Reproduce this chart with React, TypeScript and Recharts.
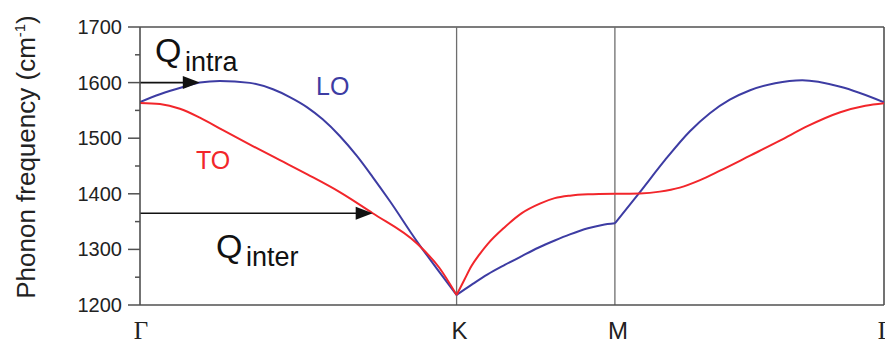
import React from "react";
import { LineChart, Line, XAxis, YAxis, ReferenceLine } from "recharts";

// path coordinate along Γ–K–M–Γ (Γ–K = 1)
const highSymmetryPoints = [
  { k: 0, name: "Γ", serif: true },
  { k: 1, name: "K", serif: false },
  { k: 1.5, name: "M", serif: false },
  { k: 2.35, name: "Γ", serif: true },
];

// [k, frequency in cm-1]
const loGammaK = [
  [0, 1565], [0.063, 1579], [0.136, 1592], [0.189, 1600], [0.252, 1603], [0.347, 1599.5],
  [0.42, 1588], [0.473, 1574], [0.527, 1556], [0.577, 1534], [0.631, 1504], [0.685, 1468],
  [0.735, 1430], [0.789, 1387], [0.874, 1315], [0.937, 1266], [1, 1218],
];
const toGammaK = [
  [0, 1563.5], [0.063, 1561.5], [0.126, 1553], [0.189, 1537], [0.262, 1514.4], [0.369, 1482],
  [0.442, 1460.5], [0.53, 1434.5], [0.631, 1403], [0.735, 1365], [0.874, 1311], [0.946, 1266.5], [1, 1218],
];
const loKM = [
  [1, 1218], [1.049, 1237], [1.098, 1255], [1.152, 1272], [1.206, 1288], [1.258, 1303],
  [1.31, 1316], [1.358, 1327], [1.415, 1338], [1.46, 1344], [1.5, 1347],
];
const toKM = [
  [1, 1218], [1.025, 1245.8], [1.047, 1270], [1.073, 1291.6], [1.098, 1309.6], [1.152, 1340],
  [1.206, 1365.3], [1.263, 1382.4], [1.31, 1392.2], [1.358, 1396.7], [1.415, 1399], [1.5, 1400],
];
const loMGamma = [
  [1.5, 1347], [1.579, 1403], [1.658, 1460.5], [1.737, 1512.6], [1.8, 1545], [1.863, 1569.2],
  [1.927, 1586.3], [2.006, 1598.8], [2.092, 1604.2], [2.212, 1592.6], [2.35, 1564.7],
];
const toMGamma = [
  [1.5, 1400], [1.579, 1400.7], [1.642, 1403.9], [1.705, 1411.1], [1.769, 1424.6], [1.832, 1441.6],
  [1.927, 1468.6], [2.021, 1495.5], [2.108, 1521.6], [2.212, 1546.7], [2.291, 1558.4], [2.35, 1562.9],
];

// scattering vectors: arrow from Γ to the tip [k, frequency]
const qIntraTip = [0.189, 1600];
const qInterTip = [0.735, 1365];

const yTicks = [1200, 1250, 1300, 1350, 1400, 1450, 1500, 1550, 1600, 1650, 1700];

const LO_COLOR = "#3d3ca3";
const TO_COLOR = "#f2262b";
const FRAME = "#505050";
const SANS = "'Liberation Sans', Arial, Helvetica, sans-serif";

const toRows = (pts: number[][]) => pts.map(([k, f]) => ({ k, f }));

const branches = [
  { id: "lo-gk", pts: loGammaK, color: LO_COLOR },
  { id: "to-gk", pts: toGammaK, color: TO_COLOR },
  { id: "lo-km", pts: loKM, color: LO_COLOR },
  { id: "to-km", pts: toKM, color: TO_COLOR },
  { id: "lo-mg", pts: loMGamma, color: LO_COLOR },
  { id: "to-mg", pts: toMGamma, color: TO_COLOR },
];

const YTick = ({ x, y, payload }: any) => {
  const major = payload.value % 100 === 0;
  return (
    <g>
      <line x1={x - (major ? 12 : 5)} x2={x} y1={y} y2={y} stroke={FRAME} strokeWidth={1.5} />
      {major && (
        <text x={x - 18} y={y + 7} textAnchor="end" fontSize={20} fontFamily={SANS} fill="#222">
          {payload.value}
        </text>
      )}
    </g>
  );
};

const XTick = ({ x, y, payload }: any) => {
  const p = highSymmetryPoints.find((h) => h.k === payload.value);
  if (!p) return null;
  return (
    <text
      x={p.serif ? x + 1 : x + 3}
      y={y + 34}
      textAnchor="middle"
      fontSize={p.serif ? 25 : 24}
      fontFamily={p.serif ? "'Liberation Serif', 'Times New Roman', serif" : SANS}
      fill="#222"
    >
      {p.name}
    </text>
  );
};

const Arrow = ({ x1, y1, x2, y2 }: any) => {
  const head = 17;
  return (
    <g>
      <line x1={x1} y1={y1} x2={x2 - head + 2} y2={y2} stroke="#111" strokeWidth={1.6} />
      <polygon points={`${x2},${y2} ${x2 - head},${y2 - 6.5} ${x2 - head},${y2 + 6.5}`} fill="#111" />
    </g>
  );
};

export default function App() {
  return (
    <div style={{ position: "absolute", left: 0, top: 0, width: 885, height: 345, background: "#fff" }}>
      <LineChart width={885} height={345} margin={{ top: 27, right: 1, bottom: 0, left: 0 }}>
        <XAxis
          dataKey="k"
          type="number"
          domain={[0, 2.35]}
          ticks={highSymmetryPoints.map((p) => p.k)}
          interval={0}
          tick={<XTick />}
          tickLine={false}
          tickSize={0}
          tickMargin={0}
          height={40}
          axisLine={{ stroke: FRAME, strokeWidth: 1.6 }}
          allowDataOverflow
        />
        <YAxis
          dataKey="f"
          type="number"
          domain={[1200, 1700]}
          ticks={yTicks}
          interval={0}
          tick={<YTick />}
          tickLine={false}
          tickSize={0}
          tickMargin={0}
          width={140}
          axisLine={{ stroke: FRAME, strokeWidth: 1.6 }}
          allowDataOverflow
        />
        <ReferenceLine y={1700} stroke={FRAME} strokeWidth={1.6} />
        <ReferenceLine x={2.35} stroke={FRAME} strokeWidth={1.6} />
        <ReferenceLine x={1} stroke="#6e6e6e" strokeWidth={1.3} />
        <ReferenceLine x={1.5} stroke="#6e6e6e" strokeWidth={1.3} />
        {branches.map((b) => (
          <Line
            key={b.id}
            data={toRows(b.pts)}
            dataKey="f"
            type="monotone"
            stroke={b.color}
            strokeWidth={2}
            dot={false}
            activeDot={false}
            isAnimationActive={false}
          />
        ))}
        <ReferenceLine
          segment={[{ x: 0, y: qIntraTip[1] }, { x: qIntraTip[0], y: qIntraTip[1] }]}
          shape={(p: any) => <Arrow {...p} />}
        />
        <ReferenceLine
          segment={[{ x: 0, y: qInterTip[1] }, { x: qInterTip[0], y: qInterTip[1] }]}
          shape={(p: any) => <Arrow {...p} />}
        />
      </LineChart>
      <svg width={885} height={345} style={{ position: "absolute", left: 0, top: 0, pointerEvents: "none" }}>
        <text transform="translate(35 157) rotate(-90)" textAnchor="middle" fontSize={26} fontFamily={SANS} fill="#222">
          Phonon frequency (cm<tspan dy={-10} fontSize={15}>-1</tspan>
          <tspan dy={10}>)</tspan>
        </text>
        <text x={155} y={62} fontSize={34} fontFamily={SANS} fill="#111">
          Q<tspan x={185} y={71} fontSize={27}>intra</tspan>
        </text>
        <text x={216} y={258} fontSize={34} fontFamily={SANS} fill="#111">
          Q<tspan x={246} y={266} fontSize={27}>inter</tspan>
        </text>
        <text x={316} y={95} fontSize={25} fontFamily={SANS} fill={LO_COLOR}>LO</text>
        <text x={196} y={169} fontSize={25} fontFamily={SANS} fill={TO_COLOR}>TO</text>
      </svg>
    </div>
  );
}
